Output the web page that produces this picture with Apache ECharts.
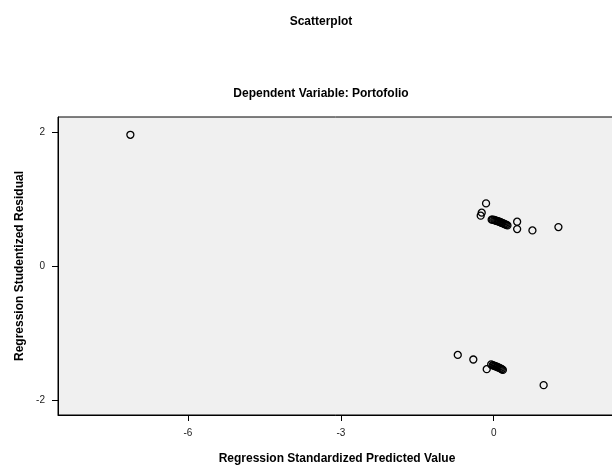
<!DOCTYPE html>
<html>
<head>
<meta charset="utf-8">
<script src="https://cdn.jsdelivr.net/npm/echarts@6/dist/echarts.min.js"></script>
<style>html,body{margin:0;padding:0;background:#fff;}#c{width:612px;height:467px;}</style>
</head>
<body>
<div id="c"></div>
<script>
const titleText = "Scatterplot";
const subtitleText = "Dependent Variable: Portofolio";
const xName = "Regression Standardized Predicted Value";
const yName = "Regression Studentized Residual";
const xTicks = [-6, -3, 0];
const yTicks = [-2, 0, 2];
const predicted = [
  -7.13,
  -0.15, -0.235, -0.255, -0.04, -0.02, 0.01, 0.03, 0.05, 0.07, 0.09, 0.11, 0.13, 0.15, 0.17, 0.19, 0.21, 0.23, 0.25, 0.27, 0.46, 0.46, 0.76, 1.27,
  -0.705, -0.40, -0.137, -0.05, -0.02, 0.0, 0.02, 0.04, 0.06, 0.08, 0.10, 0.12, 0.14, 0.16, 0.18, 0.98
];
const residual = [
  1.955,
  0.933, 0.795, 0.75, 0.69, 0.69, 0.685, 0.68, 0.675, 0.67, 0.665, 0.66, 0.655, 0.645, 0.64, 0.635, 0.625, 0.62, 0.612, 0.605, 0.66, 0.55, 0.53, 0.58,
  -1.325, -1.393, -1.537, -1.467, -1.478, -1.483, -1.49, -1.495, -1.50, -1.508, -1.515, -1.522, -1.53, -1.538, -1.548, -1.775
];
const points = predicted.map((x, i) => [x, residual[i]]);

const chart = echarts.init(document.getElementById('c'), null, {renderer: 'canvas'});
const font = 'Arial, "Liberation Sans", sans-serif';
chart.setOption({
  animation: false,
  backgroundColor: '#ffffff',
  title: [
    {text: titleText, left: 316, top: 11, textAlign: 'center',
     textStyle: {fontFamily: font, fontSize: 12, fontWeight: 'bold', color: '#000'}},
    {text: subtitleText, left: 316, top: 83, textAlign: 'center',
     textStyle: {fontFamily: font, fontSize: 12, fontWeight: 'bold', color: '#000'}}
  ],
  grid: {left: 58, right: -4, top: 117, bottom: 52, show: true,
         containLabel: false, outerBoundsMode: 'none',
         backgroundColor: '#f0f0f0', borderColor: '#000', borderWidth: 1},
  xAxis: {
    type: 'value', min: -8.55, max: 2.4,
    name: xName, nameLocation: 'middle', nameGap: 38,
    nameTextStyle: {fontFamily: font, fontSize: 12, fontWeight: 'bold', color: '#000'},
    axisLine: {show: true, onZero: false, lineStyle: {color: '#000', width: 1}},
    axisTick: {show: true, length: 6, customValues: xTicks, lineStyle: {color: '#000'}},
    axisLabel: {customValues: xTicks, margin: 13, fontFamily: font, fontSize: 10, color: '#222'},
    splitLine: {show: false}
  },
  yAxis: {
    type: 'value', min: -2.22, max: 2.22,
    name: yName, nameLocation: 'middle', nameGap: 30, nameRotate: 90,
    nameTextStyle: {fontFamily: font, fontSize: 12, fontWeight: 'bold', color: '#000'},
    axisLine: {show: true, onZero: false, lineStyle: {color: '#000', width: 1}},
    axisTick: {show: true, length: 6, customValues: yTicks, lineStyle: {color: '#000'}},
    axisLabel: {customValues: yTicks, margin: 13, fontFamily: font, fontSize: 10, color: '#222'},
    splitLine: {show: false}
  },
  series: [{
    type: 'scatter',
    data: points,
    symbol: 'circle',
    symbolSize: 7,
    itemStyle: {color: 'rgba(0,0,0,0)', borderColor: '#000', borderWidth: 1.3, opacity: 1}
  }]
});
</script>
</body>
</html>
